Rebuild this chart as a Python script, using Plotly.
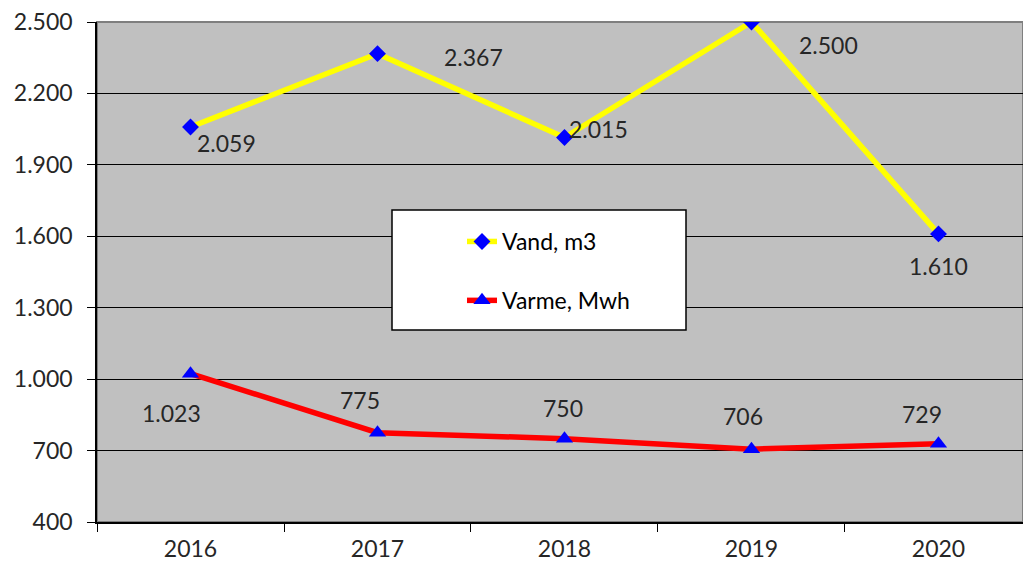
import plotly.graph_objects as go

years = ["2016", "2017", "2018", "2019", "2020"]
vand_m3 = [2059, 2367, 2015, 2500, 1610]
varme_mwh = [1023, 775, 750, 706, 729]
y_ticks = [400, 700, 1000, 1300, 1600, 1900, 2200, 2500]

FONT = "Lato"
TXT = "#262626"


def dk(v):
    return f"{v:,}".replace(",", ".")


fig = go.Figure()
fig.add_trace(go.Scatter(
    x=years, y=vand_m3, name="Vand, m3", mode="lines+markers",
    line=dict(color="#FFFF00", width=5.5),
    marker=dict(symbol="diamond", size=13, color="#0000FF"),
    legendgroup="a",
))
fig.add_trace(go.Scatter(
    x=years, y=varme_mwh, name="Varme, Mwh", mode="lines+markers",
    line=dict(color="#FF0000", width=5.5),
    marker=dict(symbol="triangle-up", size=15, color="#0000FF"),
    legendgroup="b",
))

# pixel offsets of each value label from its point;
# on a category axis the label x is the category's index
vand_shift = [(36, -16), (96, -3), (34, 8), (77, -23), (0, -32)]
varme_shift = [(-19, -39), (-17, 33), (-1, 31), (-8, 33), (-16, 30)]
labels = []
for i, (v, (dx, dy)) in enumerate(zip(vand_m3, vand_shift)):
    labels.append(dict(x=i, y=v, xref="x", yref="y", text=dk(v), showarrow=False,
                       xshift=dx, yshift=dy, font=dict(size=23, color=TXT, family=FONT)))
for i, (v, (dx, dy)) in enumerate(zip(varme_mwh, varme_shift)):
    labels.append(dict(x=i, y=v, xref="x", yref="y", text=dk(v), showarrow=False,
                       xshift=dx, yshift=dy, font=dict(size=23, color=TXT, family=FONT)))

# plot-area frame and legend box
shapes = [
    dict(type="rect", xref="paper", yref="paper", x0=0, x1=1, y0=0, y1=1,
         line=dict(color="#7F7F7F", width=2), layer="below"),
    dict(type="rect", xref="paper", yref="paper",
         x0=(392 - 97) / 926, x1=(686 - 97) / 926,
         y0=(522 - 330) / 500, y1=(522 - 210) / 500,
         line=dict(color="#000000", width=1.5), fillcolor="white", layer="above"),
]

fig.update_layout(
    width=1023, height=566,
    margin=dict(l=97, r=0, t=22, b=44),
    paper_bgcolor="white", plot_bgcolor="#C0C0C0",
    separators=",.",
    font=dict(family=FONT, size=20, color=TXT),
    annotations=labels,
    shapes=shapes,
    showlegend=True,
    legend=dict(
        x=(462 - 97) / 926, y=(522 - 220) / 500, xanchor="left", yanchor="top",
        bgcolor="rgba(0,0,0,0)", borderwidth=0,
        font=dict(size=23, color="#000000", family=FONT),
        traceorder="grouped", tracegroupgap=26,
    ),
    xaxis=dict(
        type="category", range=[-0.5, 4.452],
        showgrid=False, showline=True, linecolor="#000000", linewidth=1.5,
        ticks="outside", tickson="boundaries", ticklen=8, tickcolor="#000000",
        tickfont=dict(size=23, color=TXT), ticklabelstandoff=6,
        zeroline=False,
    ),
    yaxis=dict(
        range=[400, 2500], tickvals=y_ticks, tickformat=",d",
        showgrid=True, gridcolor="#000000", gridwidth=1,
        showline=True, linecolor="#000000", linewidth=1.5,
        ticks="outside", ticklen=8, tickcolor="#000000",
        tickfont=dict(size=23, color=TXT), ticklabelstandoff=10,
        zeroline=False,
    ),
)

fig.write_html("out.html")
